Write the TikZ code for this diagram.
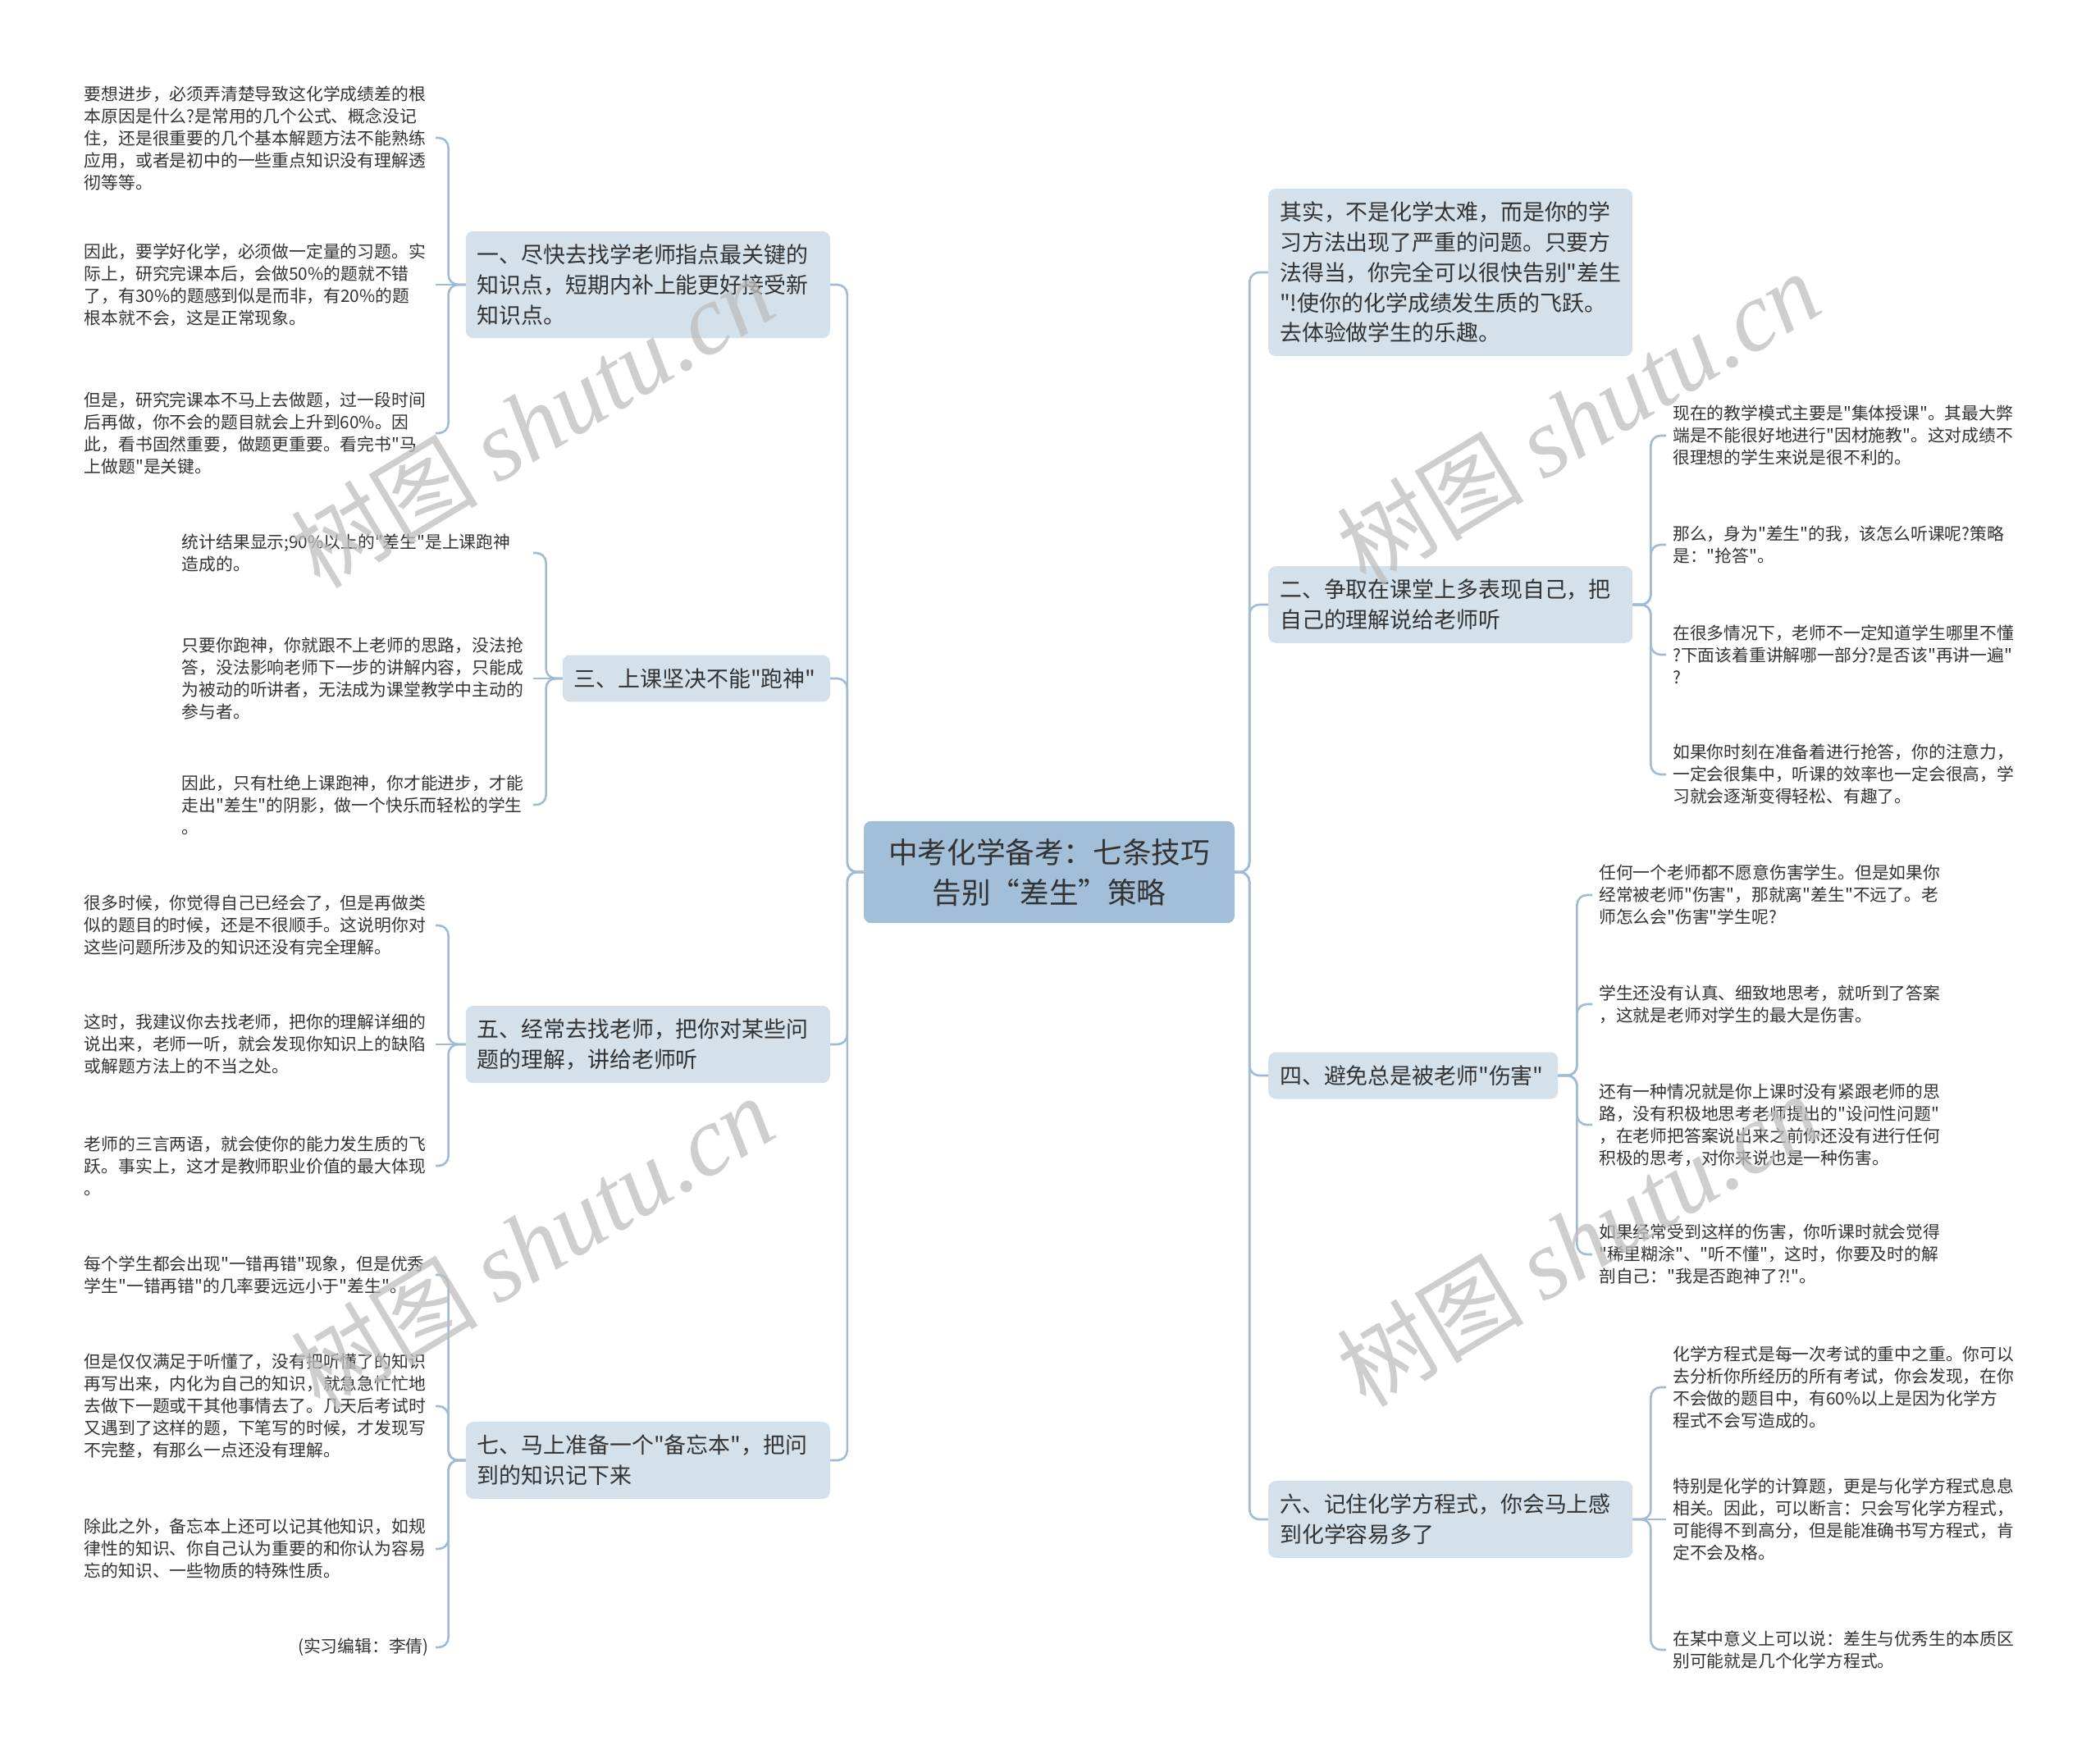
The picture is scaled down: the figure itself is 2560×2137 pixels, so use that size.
\documentclass[tikz,border=0pt]{standalone}
\usepackage{fontspec}
\setmainfont{Noto Sans CJK SC}[Ligatures=TeXOff]
\newfontfamily\wmlatin{Liberation Serif}
\definecolor{rootfill}{HTML}{A3BFD8}
\definecolor{branchfill}{HTML}{D4E0EA}
\definecolor{linec}{HTML}{9FBBD6}
\definecolor{txt}{HTML}{333333}
\definecolor{wmc}{HTML}{BEBEBE}
\begin{document}
\begin{tikzpicture}[x=1pt,y=-1pt,
  leaf/.style={inner xsep=8pt, inner ysep=2pt, text width=420pt, align=left, text=txt,
    font=\fontsize{20.8}{27}\selectfont},
  branch/.style={fill=branchfill, rounded corners=9pt, inner xsep=14pt, inner ysep=16pt,
    align=left, text=txt, font=\fontsize{26.9}{36.7}\selectfont},
  rootnode/.style={fill=rootfill, rounded corners=9pt, inner xsep=16pt, inner ysep=21pt,
    text width=420pt, align=center, text=txt, font=\fontsize{35.6}{49}\selectfont},
  conn/.style={draw=linec, line width=2.6pt, rounded corners=12pt},
  wm/.style={rotate=31, text=wmc, text opacity=0.75, inner sep=0pt}]
\useasboundingbox (0,0) rectangle (2560,2137);
\fill[white] (0,0) rectangle (2560,2137);

% root
\node[rootnode] (root) at (1279,1063) {中考化学备考：七条技巧\\告别“差生”策略};

% left branches
\node[branch, text width=416pt, anchor=east] (b1) at (1012,347) {一、尽快去找学老师指点最关键的\\知识点，短期内补上能更好接受新\\知识点。};
\node[branch, text width=298pt, anchor=east] (b3) at (1012,827) {三、上课坚决不能"跑神"};
\node[branch, text width=416pt, anchor=east] (b5) at (1012,1273) {五、经常去找老师，把你对某些问\\题的理解，讲给老师听};
\node[branch, text width=416pt, anchor=east] (b7) at (1012,1780) {七、马上准备一个"备忘本"，把问\\到的知识记下来};

% right branches
\node[branch, text width=416pt, anchor=west] (r0) at (1546,332) {其实，不是化学太难，而是你的学\\习方法出现了严重的问题。只要方\\法得当，你完全可以很快告别"差生\\"!使你的化学成绩发生质的飞跃。\\去体验做学生的乐趣。};
\node[branch, text width=416pt, anchor=west] (b2) at (1546,737) {二、争取在课堂上多表现自己，把\\自己的理解说给老师听};
\node[branch, text width=325pt, anchor=west] (b4) at (1546,1311) {四、避免总是被老师"伤害"};
\node[branch, text width=416pt, anchor=west] (b6) at (1546,1852) {六、记住化学方程式，你会马上感\\到化学容易多了};

% leaves of b1
\node[leaf, anchor=east] (l1a) at (531,168) {要想进步，必须弄清楚导致这化学成绩差的根\\本原因是什么?是常用的几个公式、概念没记\\住，还是很重要的几个基本解题方法不能熟练\\应用，或者是初中的一些重点知识没有理解透\\彻等等。};
\node[leaf, anchor=east] (l1b) at (531,347) {因此，要学好化学，必须做一定量的习题。实\\际上，研究完课本后，会做50\%的题就不错\\了，有30\%的题感到似是而非，有20\%的题\\根本就不会，这是正常现象。};
\node[leaf, anchor=east] (l1c) at (531,528) {但是，研究完课本不马上去做题，过一段时间\\后再做，你不会的题目就会上升到60\%。因\\此，看书固然重要，做题更重要。看完书"马\\上做题"是关键。};

% leaves of b3
\node[leaf, anchor=east] (l3a) at (650,674) {统计结果显示;90\%以上的"差生"是上课跑神\\造成的。};
\node[leaf, anchor=east] (l3b) at (650,827) {只要你跑神，你就跟不上老师的思路，没法抢\\答，没法影响老师下一步的讲解内容，只能成\\为被动的听讲者，无法成为课堂教学中主动的\\参与者。};
\node[leaf, anchor=east] (l3c) at (650,981) {因此，只有杜绝上课跑神，你才能进步，才能\\走出"差生"的阴影，做一个快乐而轻松的学生\\。};

% leaves of b5
\node[leaf, anchor=east] (l5a) at (531,1128) {很多时候，你觉得自己已经会了，但是再做类\\似的题目的时候，还是不很顺手。这说明你对\\这些问题所涉及的知识还没有完全理解。};
\node[leaf, anchor=east] (l5b) at (531,1273) {这时，我建议你去找老师，把你的理解详细的\\说出来，老师一听，就会发现你知识上的缺陷\\或解题方法上的不当之处。};
\node[leaf, anchor=east] (l5c) at (531,1421) {老师的三言两语，就会使你的能力发生质的飞\\跃。事实上，这才是教师职业价值的最大体现\\。};

% leaves of b7
\node[leaf, anchor=east] (l7a) at (531,1554) {每个学生都会出现"一错再错"现象，但是优秀\\学生"一错再错"的几率要远远小于"差生"。};
\node[leaf, anchor=east] (l7b) at (531,1714) {但是仅仅满足于听懂了，没有把听懂了的知识\\再写出来，内化为自己的知识，就急急忙忙地\\去做下一题或干其他事情去了。几天后考试时\\又遇到了这样的题，下笔写的时候，才发现写\\不完整，有那么一点还没有理解。};
\node[leaf, anchor=east] (l7c) at (531,1888) {除此之外，备忘本上还可以记其他知识，如规\\律性的知识、你自己认为重要的和你认为容易\\忘的知识、一些物质的特殊性质。};
\node[leaf, anchor=east, align=right] (l7d) at (531,2008) {(实习编辑：李倩)};

% leaves of b2
\node[leaf, anchor=west] (r2a) at (2031,531) {现在的教学模式主要是"集体授课"。其最大弊\\端是不能很好地进行"因材施教"。这对成绩不\\很理想的学生来说是很不利的。};
\node[leaf, anchor=west] (r2b) at (2031,664) {那么，身为"差生"的我，该怎么听课呢?策略\\是："抢答"。};
\node[leaf, anchor=west] (r2c) at (2031,798) {在很多情况下，老师不一定知道学生哪里不懂\\?下面该着重讲解哪一部分?是否该"再讲一遍"\\?};
\node[leaf, anchor=west] (r2d) at (2031,944) {如果你时刻在准备着进行抢答，你的注意力，\\一定会很集中，听课的效率也一定会很高，学\\习就会逐渐变得轻松、有趣了。};

% leaves of b4
\node[leaf, anchor=west] (r4a) at (1941,1091) {任何一个老师都不愿意伤害学生。但是如果你\\经常被老师"伤害"，那就离"差生"不远了。老\\师怎么会"伤害"学生呢?};
\node[leaf, anchor=west] (r4b) at (1941,1224) {学生还没有认真、细致地思考，就听到了答案\\，这就是老师对学生的最大是伤害。};
\node[leaf, anchor=west] (r4c) at (1941,1371) {还有一种情况就是你上课时没有紧跟老师的思\\路，没有积极地思考老师提出的"设问性问题"\\，在老师把答案说出来之前你还没有进行任何\\积极的思考，对你来说也是一种伤害。};
\node[leaf, anchor=west] (r4d) at (1941,1529) {如果经常受到这样的伤害，你听课时就会觉得\\"稀里糊涂"、"听不懂"，这时，你要及时的解\\剖自己："我是否跑神了?!"。};

% leaves of b6
\node[leaf, anchor=west] (r6a) at (2031,1691) {化学方程式是每一次考试的重中之重。你可以\\去分析你所经历的所有考试，你会发现，在你\\不会做的题目中，有60\%以上是因为化学方\\程式不会写造成的。};
\node[leaf, anchor=west] (r6b) at (2031,1852) {特别是化学的计算题，更是与化学方程式息息\\相关。因此，可以断言：只会写化学方程式，\\可能得不到高分，但是能准确书写方程式，肯\\定不会及格。};
\node[leaf, anchor=west] (r6c) at (2031,2011) {在某中意义上可以说：差生与优秀生的本质区\\别可能就是几个化学方程式。};

% root to branches
\foreach \b in {b1,b3,b5,b7} \draw[conn] (root.west) -- ++(-20,0) |- (\b.east);
\foreach \b in {r0,b2,b4,b6} \draw[conn] (root.east) -- ++(18,0) |- (\b.west);

% branch to leaves
\foreach \l in {l1a,l1c} \draw[conn] (b1.west) -- ++(-21,0) |- (\l.east);
\draw[conn] (b1.west) -- (b1.west -| l1b.east);
\foreach \l in {l3a,l3c} \draw[conn] (b3.west) -- ++(-20,0) |- (\l.east);
\draw[conn] (b3.west) -- (b3.west -| l3b.east);
\foreach \l in {l5a,l5c} \draw[conn] (b5.west) -- ++(-21,0) |- (\l.east);
\draw[conn] (b5.west) -- (b5.west -| l5b.east);
\foreach \l in {l7a,l7b,l7c,l7d} \draw[conn] (b7.west) -- ++(-21,0) |- (\l.east);
\foreach \l in {r2a,r2b,r2c,r2d} \draw[conn] (b2.east) -- ++(22,0) |- (\l.west);
\foreach \l in {r4a,r4b,r4c,r4d} \draw[conn] (b4.east) -- ++(23,0) |- (\l.west);
\foreach \l in {r6a,r6c} \draw[conn] (b6.east) -- ++(22,0) |- (\l.west);
\draw[conn] (b6.east) -- (b6.east -| r6b.west);

% watermarks
\foreach \n/\p in {wm1/{(649,514)}, wm2/{(1924,510)}, wm3/{(649,1515)}, wm4/{(1924,1512)}}
  \node[wm] (\n) at \p {{\fontsize{114}{114}\selectfont 树图}\hspace{24pt}{\wmlatin\itshape\fontsize{120}{120}\selectfont shutu.cn}};
\end{tikzpicture}
\end{document}
